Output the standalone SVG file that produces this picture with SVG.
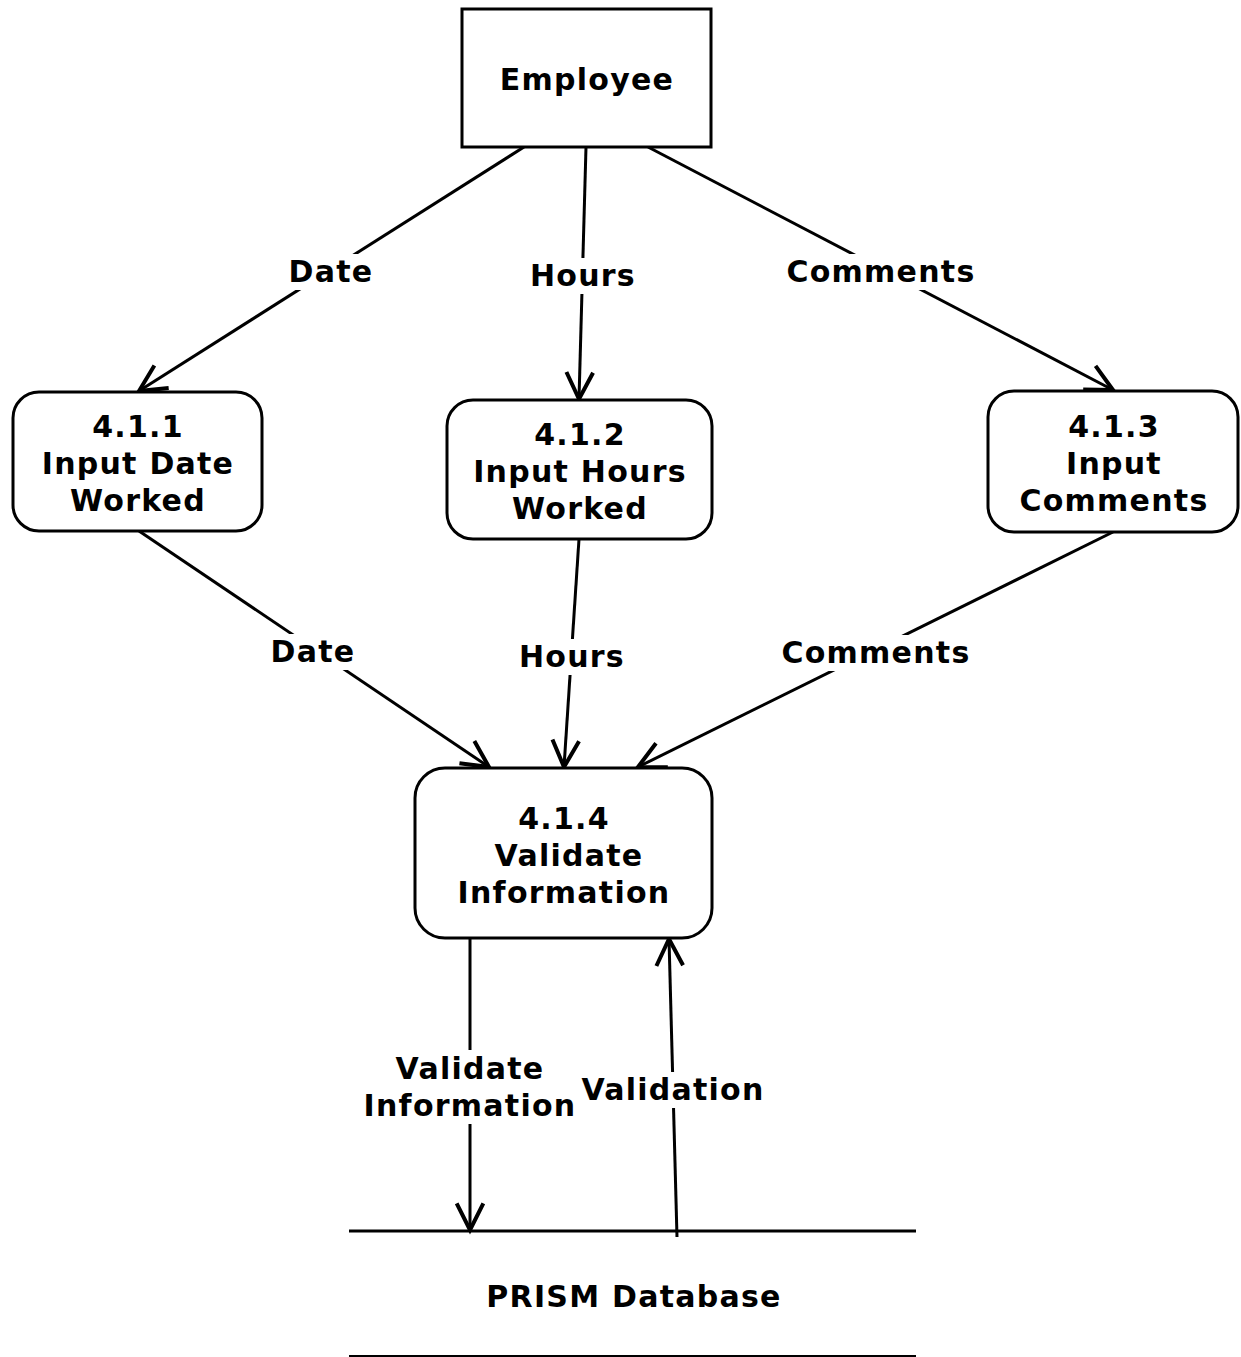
<svg xmlns="http://www.w3.org/2000/svg" width="1241" height="1357" viewBox="0 0 1241 1357">
<style>
text{font-family:"DejaVu Sans",Verdana,sans-serif;font-weight:bold;font-size:30px;letter-spacing:1.25px;fill:#000;text-anchor:middle}
.box{fill:#fff;stroke:#000;stroke-width:3}
.ln{fill:none;stroke:#000;stroke-width:3}
.bg{fill:#fff;stroke:none}
</style>
<defs>
<marker id="arr" markerUnits="userSpaceOnUse" markerWidth="40" markerHeight="40" refX="0" refY="0" viewBox="-25 -15 30 30" orient="auto" overflow="visible">
<path d="M -20 -10 L 0 0 L -20 10" fill="none" stroke="#000" stroke-width="3"/>
</marker>
</defs>
<g id="connectors">
<line class="ln" x1="524" y1="147" x2="139" y2="391" marker-end="url(#arr)"/>
<line class="ln" x1="586" y1="147" x2="579" y2="399" marker-end="url(#arr)"/>
<line class="ln" x1="648" y1="147" x2="1113" y2="390" marker-end="url(#arr)"/>
<line class="ln" x1="139" y1="531" x2="489" y2="767" marker-end="url(#arr)"/>
<line class="ln" x1="579" y1="539" x2="564" y2="767" marker-end="url(#arr)"/>
<line class="ln" x1="1113" y1="532" x2="638" y2="767" marker-end="url(#arr)"/>
<line class="ln" x1="470" y1="938" x2="470" y2="1230" marker-end="url(#arr)"/>
<line class="ln" x1="677" y1="1237" x2="669" y2="939" marker-end="url(#arr)"/>
<rect class="bg" x="287" y="254" width="89" height="36"/>
<text x="331" y="282">Date</text>
<rect class="bg" x="527" y="258" width="112" height="36"/>
<text x="583" y="286">Hours</text>
<rect class="bg" x="784" y="254" width="195" height="36"/>
<text x="881" y="282">Comments</text>
<rect class="bg" x="269" y="634" width="89" height="36"/>
<text x="313" y="662">Date</text>
<rect class="bg" x="516" y="639" width="112" height="36"/>
<text x="572" y="667">Hours</text>
<rect class="bg" x="778" y="635" width="195" height="36"/>
<text x="876" y="663">Comments</text>
<rect class="bg" x="360" y="1050" width="220" height="74"/>
<text x="470" y="1079">Validate</text>
<text x="470" y="1116">Information</text>
<rect class="bg" x="580" y="1072" width="186" height="36"/>
<text x="673" y="1100">Validation</text>
</g>
<g id="employee">
<rect class="box" x="462" y="9" width="249" height="138"/>
<text x="587" y="90">Employee</text>
</g>
<g id="p411">
<rect class="box" x="13" y="392" width="249" height="139" rx="26"/>
<text x="138" y="437">4.1.1</text>
<text x="138" y="474">Input Date</text>
<text x="138" y="511">Worked</text>
</g>
<g id="p412">
<rect class="box" x="447" y="400" width="265" height="139" rx="26"/>
<text x="580" y="445">4.1.2</text>
<text x="580" y="482">Input Hours</text>
<text x="580" y="519">Worked</text>
</g>
<g id="p413">
<rect class="box" x="988" y="391" width="250" height="141" rx="26"/>
<text x="1114" y="437">4.1.3</text>
<text x="1114" y="474">Input</text>
<text x="1114" y="511">Comments</text>
</g>
<g id="p414">
<rect class="box" x="415" y="768" width="297" height="170" rx="30"/>
<text x="564" y="829">4.1.4</text>
<text x="569" y="866">Validate</text>
<text x="564" y="903">Information</text>
</g>
<g id="db">
<line x1="349" y1="1231" x2="916" y2="1231" stroke="#000" stroke-width="3"/>
<line x1="349" y1="1356" x2="916" y2="1356" stroke="#000" stroke-width="2"/>
<text x="634" y="1307">PRISM Database</text>
</g>
</svg>
